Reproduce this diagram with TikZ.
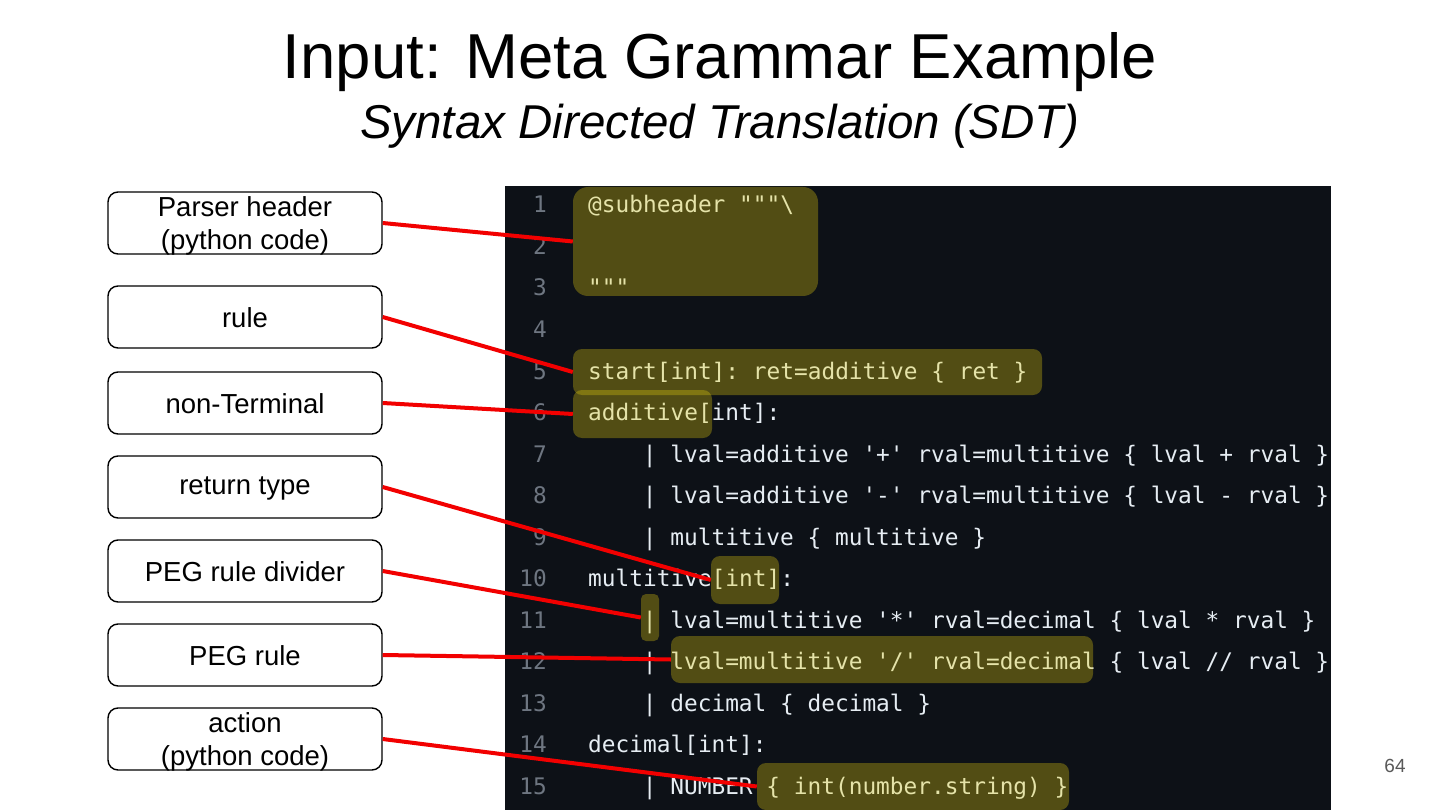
\documentclass[tikz,border=0pt]{standalone}
\usepackage{fontspec}
\setmainfont{Liberation Sans}
\setmonofont{DejaVu Sans Mono}
\definecolor{panel}{HTML}{0D1117}
\definecolor{codefg}{HTML}{E6EDF3}
\definecolor{lnfg}{HTML}{6E7681}
\definecolor{hlc}{HTML}{E4CE0E}
\definecolor{linkred}{HTML}{F20000}
\definecolor{pagegray}{HTML}{595959}
\begin{document}
\begin{tikzpicture}[x=1pt,y=-1pt,
  box/.style={draw=black, line width=1.4pt, rounded corners=10pt, minimum width=274pt, minimum height=62pt, inner sep=0pt},
  lbl/.style={font=\fontsize{27.5}{33}\selectfont, align=center, inner sep=0pt},
  code/.style={font=\ttfamily\fontsize{22.8}{27}\selectfont, text=codefg, anchor=base west, inner sep=0pt},
  lnum/.style={font=\ttfamily\fontsize{22.8}{27}\selectfont, text=lnfg, anchor=base east, inner sep=0pt},
  hl/.style={fill=hlc, fill opacity=0.32, draw=none, rounded corners=9pt, inner sep=0pt},
  link/.style={draw=linkred, line width=4pt}
]
\useasboundingbox (0,0) rectangle (1440,810);
\fill[white] (0,0) rectangle (1440,810);

% titles
\node[anchor=base, inner sep=0pt, font=\fontsize{63.5}{70}\selectfont] (title) at (720,79) {Input: Meta Grammar Example};
\node[anchor=base, inner sep=0pt, font=\itshape\fontsize{47.5}{52}\selectfont] (subtitle) at (720,139) {Syntax Directed Translation (SDT)};

% code panel
\fill[panel] (505,186) rectangle (1331,810);

\foreach \i in {1,...,15} {
  \node[lnum] (ln\i) at (547,{213+(\i-1)*41.5}) {\i};
}
\def\xa{588}
\def\xb{642.7}
\node[code] (c1) at (\xa,213) {@subheader """\textbackslash};
\node[code] (c3) at (\xa,296) {"""};
\node[code] (c5) at (\xa,379) {start[int]: ret=additive \{ ret \}};
\node[code] (c6) at (\xa,420.5) {additive[int]:};
\node[code] (c7) at (\xb,462) {| lval=additive '+' rval=multitive \{ lval + rval \}};
\node[code] (c8) at (\xb,503.5) {| lval=additive '-' rval=multitive \{ lval - rval \}};
\node[code] (c9) at (\xb,545) {| multitive \{ multitive \}};
\node[code] (c10) at (\xa,586.5) {multitive[int]:};
\node[code] (c11) at (\xb,628) {| lval=multitive '*' rval=decimal \{ lval * rval \}};
\node[code] (c12) at (\xb,669.5) {| lval=multitive '/' rval=decimal \{ lval // rval \}};
\node[code] (c13) at (\xb,711) {| decimal \{ decimal \}};
\node[code] (c14) at (\xa,752.5) {decimal[int]:};
\node[code] (c15) at (\xb,794) {| NUMBER \{ int(number.string) \}};

% highlights
\node[hl, rounded corners=15pt, minimum width=245pt, minimum height=109pt] (h1) at (695.5,241.5) {};
\node[hl, minimum width=469pt, minimum height=46pt] (h2) at (807.5,372) {};
\node[hl, minimum width=139pt, minimum height=48pt] (h3) at (642.5,414) {};
\node[hl, minimum width=68pt, minimum height=48pt] (h4) at (745,580) {};
\node[hl, rounded corners=5pt, minimum width=18pt, minimum height=47pt] (h5) at (650,617.5) {};
\node[hl, minimum width=422pt, minimum height=47pt] (h6) at (882,659.5) {};
\node[hl, minimum width=312pt, minimum height=47pt] (h7) at (913,786.5) {};

% label boxes
\node[box] (b1) at (245,223) {};
\node[lbl] (t1) at ([yshift=-3pt]b1.center) {Parser header\\(python code)};
\node[box] (b2) at (245,317) {};
\node[lbl] (t2) at ([yshift=-1pt]b2.center) {rule};
\node[box] (b3) at (245,403) {};
\node[lbl] (t3) at ([yshift=-1pt]b3.center) {non-Terminal};
\node[box] (b4) at (245,487) {};
\node[lbl] (t4) at ([yshift=-1pt]b4.center) {return type};
\node[box] (b5) at (245,571) {};
\node[lbl] (t5) at ([yshift=-1pt]b5.center) {PEG rule divider};
\node[box] (b6) at (245,655) {};
\node[lbl] (t6) at ([yshift=-1pt]b6.center) {PEG rule};
\node[box] (b7) at (245,739) {};
\node[lbl] (t7) at ([yshift=-3pt]b7.center) {action\\(python code)};

% connectors
\draw[link] (b1.east) -- (h1.west);
\draw[link] (b2.east) -- (h2.west);
\draw[link] (b3.east) -- (h3.west);
\draw[link] (b4.east) -- (h4.west);
\draw[link] (b5.east) -- (h5.west);
\draw[link] (b6.east) -- (h6.west);
\draw[link] (b7.east) -- (h7.west);

% page number
\node[inner sep=0pt, text=pagegray, font=\fontsize{19}{22}\selectfont] (pg) at (1395,766) {64};
\end{tikzpicture}
\end{document}
